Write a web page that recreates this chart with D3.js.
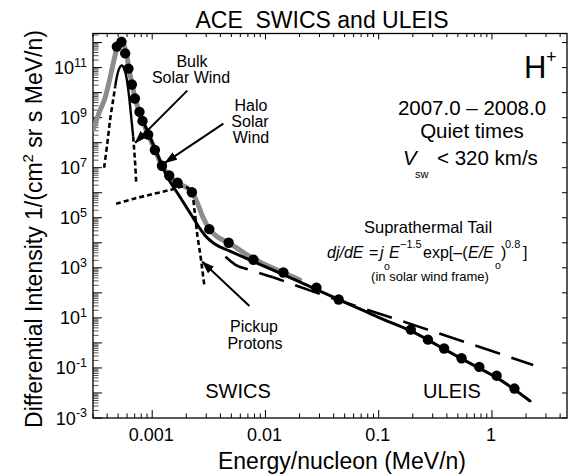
<!DOCTYPE html>
<html><head><meta charset="utf-8">
<script src="https://cdn.jsdelivr.net/npm/d3@7"></script>
<style>
html,body{margin:0;padding:0;background:#fff;}
text{font-family:"Liberation Sans",Arial,Helvetica,sans-serif;fill:#000;}
</style></head>
<body>
<svg id="c" width="568" height="476"></svg>
<script>
// ---- data ----
// measured points (SWICS + ULEIS)
const ptsE = [4.87e-4,5.35e-4,5.77e-4,6.17e-4,6.61e-4,7.03e-4,7.72e-4,8.21e-4,9.22e-4,1.056e-3,1.219e-3,1.413e-3,1.674e-3,2.24e-3,3.19e-3,4.73e-3,7.83e-3,0.0144,0.0282,0.0443,0.192,0.272,0.378,0.539,0.773,1.10,1.58];
const ptsJ = [6.9e11,1.07e12,3.7e11,9.1e10,2.1e10,5.8e9,1.7e9,7.4e8,2.1e8,5.1e7,1.2e7,4.9e6,2.5e6,1.05e6,3.5e4,1.0e4,2.1e3,650,160,54,3.4,1.35,0.60,0.245,0.11,0.049,0.015];
// total model fit (gray)
const fitE = [3.0e-4,3.40e-4,3.84e-4,4.25e-4,4.61e-4,4.90e-4,5.32e-4,5.65e-4,6.01e-4,6.25e-4,6.65e-4,7.08e-4,7.67e-4,8.17e-4,9.23e-4,1.064e-3,1.22e-3,1.41e-3,1.66e-3,1.96e-3,2.26e-3,2.50e-3,2.82e-3,3.19e-3,3.76e-3,4.71e-3,7.83e-3,0.0144,0.020];
const fitJ = [3.3e8,1.6e9,6.3e9,4.0e10,2.1e11,6.3e11,1.1e12,7.6e11,2.5e11,8.3e10,2.1e10,5.8e9,1.74e9,7.6e8,2.1e8,4.8e7,1.2e7,4.8e6,2.5e6,1.74e6,1.0e6,4.0e5,1.0e5,3.6e4,1.74e4,1.0e4,2.3e3,630,330];
// halo + suprathermal tail (solid black)
const tailE = [8.49e-4,1.04e-3,1.33e-3,1.73e-3,2.21e-3,2.61e-3,2.94e-3,3.54e-3,4.80e-3,8.32e-3,0.0133,0.0261,0.0452,0.0679,0.102,0.192,0.272,0.376,0.543,0.767,1.11,1.60,2.17];
const tailJ = [5.8e8,6.9e7,5.2e6,7.6e5,1.32e5,4.0e4,1.9e4,9.1e3,4.8e3,1.58e3,630,158,52,23,10,3.0,1.32,0.575,0.229,0.10,0.040,0.0132,0.0048];
// bulk solar wind Maxwellian
const bulkE = [3.76e-4,4.00e-4,4.25e-4,4.52e-4,4.71e-4,4.90e-4,5.11e-4,5.32e-4,5.53e-4,5.77e-4,6.01e-4,6.25e-4,6.52e-4,6.79e-4,6.93e-4,7.08e-4,7.21e-4];
const bulkJ = [1.0e7,8.3e7,8.3e8,5.2e9,1.74e10,4.8e10,9.1e10,1.2e11,1.1e11,6.9e10,2.75e10,6.9e9,1.1e9,1.74e8,5.2e7,1.32e7,2.75e6];
// pickup protons
const pickE = [4.80e-4,6.93e-4,1.04e-3,1.47e-3,1.96e-3,2.21e-3,2.36e-3,2.50e-3,2.66e-3,2.77e-3,2.88e-3];
const pickJ = [3.6e5,5.8e5,9.1e5,1.32e6,1.74e6,1.1e6,2.1e5,2.1e4,3.3e3,830,210];
// E^-1.5 power law (long dashes)
const plawE = [4.43e-3,5.43e-3,7.21e-3,0.0120,0.020,0.215,2.31];
const plawJ = [2.75e3,1.32e3,830,400,174,4.8,0.132];
// axis tick labels
const xTickVals = [0.001,0.01,0.1,1];
const xTickLabels = ["0.001","0.01","0.1","1"];
const yTickExps = [11,9,7,5,3,1,-1,-3];
// annotation arrows [tailE, tailJ, headE, headJ]
const arrowBulk = [2.04e-3,1.2e10,7.08e-4,1.0e8];
const arrowHalo = [4.25e-3,5.8e8,1.30e-3,1.6e7];
const arrowPick = [7.21e-3,30,2.77e-3,1.74e3];

// ---- layout ----
const L=93,R=567,T=33.5,B=418;
const svg=d3.select("#c");
const x=d3.scaleLog().domain([3e-4,4.6]).range([L,R]);
const y=d3.scaleLog().domain([1e-3,2.3e12]).range([B,T]);

svg.append("rect").attr("width",568).attr("height",476).attr("fill","#fff");
const defs=svg.append("defs");
defs.append("clipPath").attr("id","clip").append("rect")
  .attr("x",L).attr("y",T).attr("width",R-L).attr("height",B-T);
defs.append("marker").attr("id","ah").attr("markerUnits","userSpaceOnUse")
  .attr("markerWidth",13).attr("markerHeight",9).attr("refX",12).attr("refY",4.5)
  .attr("orient","auto").append("path").attr("d","M0,0 L13,4.5 L0,9 Z").attr("fill","#000");

// ticks
const xMinor=[],yMinor=[];
for(let e=-4;e<=0;e++)for(let k=1;k<=9;k++){const v=k*Math.pow(10,e);if(v>=3e-4*0.999&&v<=4.6)xMinor.push({v,major:k===1});}
for(let e=-3;e<=12;e++)for(let k=1;k<=9;k++){const v=k*Math.pow(10,e);if(v>=1e-3&&v<=2.3e12)yMinor.push({v,major:k===1});}
const tk=svg.append("g").attr("stroke","#000");
xMinor.forEach(t=>{
  const px=x(t.v);
  tk.append("line").attr("x1",px).attr("x2",px).attr("y1",B).attr("y2",B-(t.major?8:4.5)).attr("stroke-width",1);
  tk.append("line").attr("x1",px).attr("x2",px).attr("y1",T).attr("y2",T+(t.major?6:3.5)).attr("stroke-width",1);
});
yMinor.forEach(t=>{
  const py=y(t.v);
  tk.append("line").attr("x1",L).attr("x2",L+(t.major?9:5.5)).attr("y1",py).attr("y2",py)
    .attr("stroke",t.major?"#000":"#555").attr("stroke-width",1);
  if(t.major) tk.append("line").attr("x1",R).attr("x2",R-5).attr("y1",py).attr("y2",py).attr("stroke-width",1);
});
svg.append("rect").attr("x",L).attr("y",T).attr("width",R-L).attr("height",B-T)
  .attr("fill","none").attr("stroke","#000").attr("stroke-width",1.3);

// tick labels
xTickVals.forEach((v,i)=>{
  svg.append("text").attr("x",x(v)-1).attr("y",441).attr("text-anchor","middle")
    .attr("font-size",18).text(xTickLabels[i]);
});
yTickExps.forEach(e=>{
  const t=svg.append("text").attr("x",87).attr("y",y(Math.pow(10,e))+6.5)
    .attr("text-anchor","end").attr("font-size",18);
  t.append("tspan").text("10");
  t.append("tspan").attr("dy",-7.5).attr("font-size",12.5).text(String(e));
});

// curves
const line=(E,J,c)=>d3.line().x(d=>x(E[d])).y(d=>y(J[d])).curve(c||d3.curveMonotoneX);
const idx=a=>d3.range(a.length);
const plot=svg.append("g").attr("clip-path","url(#clip)").attr("fill","none");

plot.append("path").attr("d",line(fitE,fitJ)(idx(fitE)))
  .attr("stroke","#8c8c8c").attr("stroke-width",5).attr("stroke-linecap","round").attr("stroke-linejoin","round");
plot.append("path").attr("d",line(plawE,plawJ)(idx(plawE)))
  .attr("stroke","#000").attr("stroke-width",2.6).attr("stroke-dasharray","26,12");
plot.append("path").attr("d",line(tailE,tailJ)(idx(tailE)))
  .attr("stroke","#000").attr("stroke-width",3).attr("stroke-linecap","round");
const bi=idx(bulkE);
plot.append("path").attr("d",line(bulkE,bulkJ,d3.curveCatmullRom)(bi.slice(4,14)))
  .attr("stroke","#000").attr("stroke-width",2.4);
plot.append("path").attr("d",line(bulkE,bulkJ,d3.curveCatmullRom)(bi.slice(0,5)))
  .attr("stroke","#000").attr("stroke-width",2.6).attr("stroke-dasharray","5,3");
plot.append("path").attr("d",line(bulkE,bulkJ,d3.curveCatmullRom)(bi.slice(13)))
  .attr("stroke","#000").attr("stroke-width",2.6).attr("stroke-dasharray","5,3");
plot.append("path").attr("d",line(pickE,pickJ,d3.curveCatmullRom)(idx(pickE)))
  .attr("stroke","#000").attr("stroke-width",2.6).attr("stroke-dasharray","5,3");

svg.append("g").selectAll("circle").data(idx(ptsE)).join("circle")
  .attr("cx",d=>x(ptsE[d])).attr("cy",d=>y(ptsJ[d])).attr("r",5.2).attr("fill","#000");

// arrows
[arrowBulk,arrowHalo,arrowPick].forEach(a=>{
  svg.append("line").attr("x1",x(a[0])).attr("y1",y(a[1])).attr("x2",x(a[2])).attr("y2",y(a[3]))
    .attr("stroke","#000").attr("stroke-width",2).attr("marker-end","url(#ah)");
});

// texts: each block is one text element, its pieces are tspans
const block=(parts,anchor,fs)=>{
  const t=svg.append("text").attr("text-anchor",anchor||"middle").attr("font-size",fs||16);
  parts.forEach(p=>{
    const s=t.append("tspan").attr("x",p[1]).attr("y",p[2]).text(p[0]);
    if(p[3]) s.attr("font-size",p[3]);
    if(p[4]) s.attr("font-style",p[4]);
  });
  return t;
};
block([["ACE\u00a0 SWICS and ULEIS",322,28]],"middle",23);
block([["Energy/nucleon (MeV/n)",342,469]],"middle",23);
const yl=svg.append("text").attr("transform","translate(42,229) rotate(-90)").attr("text-anchor","middle").attr("font-size",23);
yl.append("tspan").text("Differential Intensity 1/(cm");
yl.append("tspan").attr("dy",-9).attr("font-size",15).text("2");
yl.append("tspan").attr("dy",9).text(" sr s MeV/n)");

block([["Bulk",192,67],["Solar Wind",191,83]],"middle",16);
block([["Halo",251,111],["Solar",250,127],["Wind",251,143]],"middle",16);
block([["Pickup",254,332],["Protons",255,349]],"middle",16);
block([["SWICS",238,398]],"middle",20);
block([["ULEIS",452,398]],"middle",20);

block([["H",524,78,31],["+",546,63,18]],"start");
block([["2007.0 \u2013 2008.0",472,115],["Quiet times",472,138]],"middle",20.5);
block([["V",403,165,20.5,"italic"],["sw",415,178,11],["< 320 km/s",437,165,20.5]],"start");

block([["Suprathermal Tail",428,233]],"middle",16.5);
block([
  ["dj/dE",327,258,16,"italic"],["=",369,258,16],
  ["j",380,258,16,"italic"],["o",384,270,10.5],
  ["E",389,258,16,"italic"],["\u22121.5",400,248,11],
  ["exp[\u2013(",423,258,16],["E/E",468,258,16,"italic"],["o",495,269,10.5],
  [")",501,258,16],["0.8",505,248,11],["]",523,258,16]
],"start",16);
block([["(in solar wind frame)",430,281]],"middle",13);
</script>
</body></html>
